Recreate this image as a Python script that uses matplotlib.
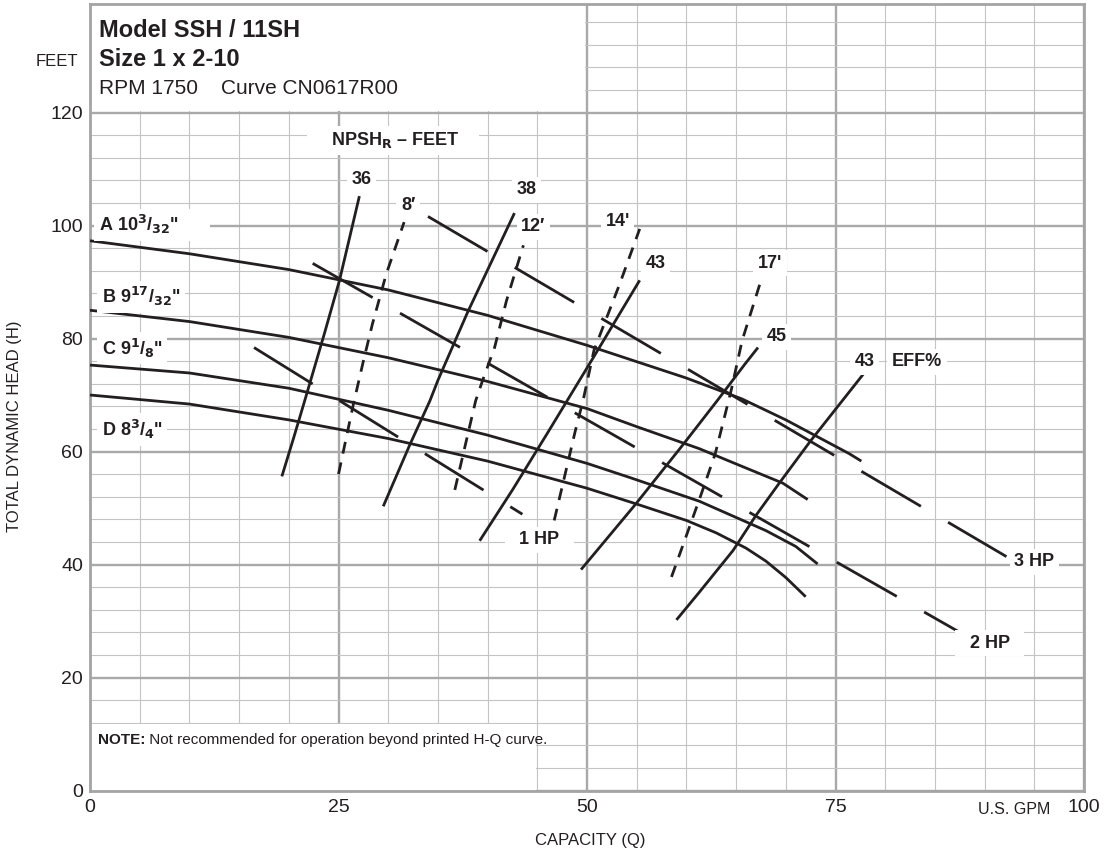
import matplotlib
matplotlib.use("Agg")
import matplotlib.pyplot as plt
from matplotlib.patches import Rectangle

plt.rcParams['font.family'] = ['Liberation Sans Narrow', 'Liberation Sans', 'DejaVu Sans']
plt.rcParams['mathtext.fontset'] = 'custom'
plt.rcParams['mathtext.rm'] = 'Liberation Sans Narrow'
plt.rcParams['mathtext.bf'] = 'Liberation Sans Narrow:bold'
plt.rcParams['lines.scale_dashes'] = False

INK = '#231f20'

# H-Q curves (capacity gpm, head ft)
a_q = [0, 10, 20, 30, 40, 50, 60, 65.6, 70, 76.4, 77.6]
a_h = [97.3, 95.0, 92.2, 88.6, 84.1, 78.8, 73.0, 69.3, 65.6, 59.6, 58.3]
b_q = [0, 10, 20, 30, 40, 50, 55, 61.3, 65, 69.7, 72.2]
b_h = [85.0, 83.0, 80.2, 76.6, 72.4, 67.6, 64.4, 60.5, 57.8, 54.4, 51.5]
c_q = [0, 10, 20, 30, 40, 50, 54.3, 61.3, 68.0, 71.0, 73.2]
c_h = [75.3, 73.9, 71.2, 67.3, 62.9, 57.9, 55.4, 51.2, 46.0, 43.2, 40.1]
d_q = [0, 10, 20, 30, 40, 50, 55, 60, 63, 66, 68, 70, 72.0]
d_h = [70.0, 68.4, 65.6, 62.3, 58.3, 53.5, 50.7, 47.8, 45.6, 42.9, 40.6, 37.7, 34.3]

# efficiency curves
e36_q = [19.3, 20.5, 21.6, 22.6, 23.6, 25.1, 27.1]
e36_h = [55.6, 62.5, 69.0, 75.0, 81.0, 90.3, 105.2]
e38_q = [29.5, 32.2, 34.2, 35.0, 38.0, 42.7]
e38_h = [50.3, 61.3, 69.0, 72.6, 84.7, 102.2]
e43a_q = [39.2, 42.5, 46.0, 50.9, 55.3]
e43a_h = [44.2, 53.2, 63.2, 77.4, 90.3]
e45_q = [49.4, 54.9, 59.7, 63.1, 65.9, 67.2]
e45_h = [39.1, 50.7, 61.3, 69.0, 75.5, 78.4]
e43b_q = [59.0, 61.3, 64.7, 67.0, 69.3, 72.5, 77.8]
e43b_h = [30.2, 35.1, 42.5, 48.7, 54.3, 61.9, 73.7]

# NPSHr curves
n8_q = [25.0, 26.5, 27.5, 28.4, 29.8, 31.6]
n8_h = [56.0, 68.4, 76.0, 82.5, 91.4, 100.6]
n12_q = [36.7, 38.8, 39.5, 40.7, 41.9, 43.6]
n12_h = [53.2, 69.0, 72.6, 78.4, 86.7, 96.5]
n14_q = [46.7, 47.8, 48.8, 49.6, 50.7, 53.3, 55.3]
n14_h = [47.8, 56.0, 63.5, 69.0, 77.9, 89.7, 99.4]
n17_q = [58.5, 60.3, 61.5, 62.9, 64.5, 65.6, 67.4]
n17_h = [37.8, 46.6, 52.5, 59.6, 70.8, 79.6, 89.7]

# horsepower lines (start, end)
hp1_q = [16.5, 43.5]
hp1_h = [78.4, 48.9]
hp2_q = [22.4, 87.6]
hp2_h = [93.3, 27.9]
hp3_q = [34.0, 92.2]
hp3_h = [101.6, 41.4]

fig = plt.figure(figsize=(11.06, 8.56), dpi=100)
ax = fig.add_axes([0.0814, 0.0765, 0.8987, 0.9188])
ax.set_xlim(0, 100)
ax.set_ylim(0, 139.2)

ax.set_xticks([0, 25, 50, 75, 100])
ax.set_xticks(range(0, 101, 5), minor=True)
ax.set_yticks(range(0, 121, 20))
ax.set_yticks(range(0, 139, 4), minor=True)
ax.tick_params(which='both', length=0)
ax.tick_params(axis='both', labelsize=14, labelcolor=INK)
ax.tick_params(axis='x', pad=6)
ax.tick_params(axis='y', pad=5)
ax.set_axisbelow(True)
ax.grid(which='major', color='#a9a9a9', lw=1.7)
ax.grid(which='minor', color='#c4c4c4', lw=0.8)
for s in ax.spines.values():
    s.set_color('#a4a4a4')
    s.set_linewidth(2.0)

# white panels for title block and note
ax.add_patch(Rectangle((0, 120.35), 49.8, 20, facecolor='white', edgecolor='none', zorder=1))
ax.add_patch(Rectangle((0, 0), 44.85, 11.85, facecolor='white', edgecolor='none', zorder=1))

for q, h in [(a_q, a_h), (b_q, b_h), (c_q, c_h), (d_q, d_h),
             (e36_q, e36_h), (e38_q, e38_h), (e43a_q, e43a_h),
             (e45_q, e45_h), (e43b_q, e43b_h)]:
    ax.plot(q, h, color=INK, lw=2.0, zorder=3, solid_capstyle='butt',
            solid_joinstyle='round')

for q, h in [(n8_q, n8_h), (n12_q, n12_h), (n14_q, n14_h), (n17_q, n17_h)]:
    ax.plot(q, h, color=INK, lw=2.0, zorder=3, dashes=(8.6, 6.5), dash_capstyle='butt')

for q, h in [(hp1_q, hp1_h), (hp2_q, hp2_h), (hp3_q, hp3_h)]:
    ax.plot(q, h, color=INK, lw=2.0, zorder=3, dashes=(49.7, 22.7), dash_capstyle='butt')

box = dict(boxstyle='square,pad=0.25', facecolor='white', edgecolor='none')

def label(x, y, s, ha='center', size=13):
    ax.text(x, y, s, ha=ha, va='center', fontsize=size, fontweight='bold',
            color=INK, bbox=box, zorder=5)

label(0.9, 100.1, r'A 10$^{\mathbf{3}}$/$_{\mathbf{32}}$"      ', ha='left')
label(1.2, 87.4, r'B 9$^{\mathbf{17}}$/$_{\mathbf{32}}$"', ha='left')
label(1.2, 78.3, r'C 9$^{\mathbf{1}}$/$_{\mathbf{8}}$"', ha='left')
label(1.2, 63.9, r'D 8$^{\mathbf{3}}$/$_{\mathbf{4}}$"', ha='left')
label(30.5, 115.1, r'    NPSH$_{\mathbf{R}}$ – FEET    ')
label(27.3, 108.2, '36')
label(32.0, 103.6, '8′')
label(43.9, 106.3, '38')
label(44.6, 99.8, '12′')
label(53.1, 100.7, "14'")
label(56.9, 93.3, '43')
label(68.4, 93.3, "17'")
label(69.1, 80.3, '45')
label(77.9, 75.9, '43')
label(83.2, 75.9, 'EFF%')
label(45.2, 44.4, '  1 HP  ')
label(90.5, 26.1, '  2 HP  ')
label(95.0, 40.5, '3 HP')

ax.text(0.9, 134.6, 'Model SSH / 11SH', fontsize=17, fontweight='bold', color=INK,
        va='center', zorder=5)
ax.text(0.9, 129.3, 'Size 1 x 2-10', fontsize=17, fontweight='bold', color=INK,
        va='center', zorder=5)
ax.text(0.9, 124.2, 'RPM 1750    Curve CN0617R00', fontsize=15, color=INK,
        va='center', zorder=5)

t1 = ax.text(0.8, 9.0, 'NOTE:', fontsize=11, fontweight='bold', color=INK,
             va='center', zorder=5)
ax.annotate(' Not recommended for operation beyond printed H-Q curve.',
            xy=(1, 0), xycoords=t1, va='bottom', ha='left', fontsize=11,
            color=INK, zorder=5)

fig.text(78 / 1106, 1 - 62 / 856, 'FEET', ha='right', va='center', fontsize=12, color=INK)
fig.text(1050 / 1106, 1 - 810 / 856, 'U.S. GPM', ha='right', va='center', fontsize=11.5, color=INK)
fig.text(590 / 1106, 1 - 840 / 856, 'CAPACITY (Q)', ha='center', va='center', fontsize=12, color=INK)
fig.text(15 / 1106, 1 - 426 / 856, 'TOTAL DYNAMIC HEAD (H)', ha='center', va='center',
         rotation=90, fontsize=12, color=INK)

fig.savefig('out.png', dpi=100)
